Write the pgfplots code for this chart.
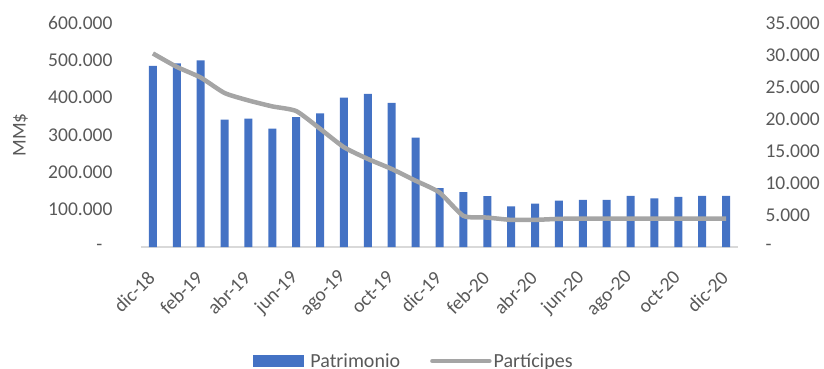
\documentclass[border=0pt]{standalone}
\usepackage{pgfplots}
\pgfplotsset{compat=1.18}
\usepackage{fontspec}
\setmainfont{Carlito}
\definecolor{barblue}{HTML}{4472C4}
\definecolor{linegray}{HTML}{A5A5A5}
\definecolor{txt}{HTML}{595959}
\definecolor{axgray}{HTML}{D9D9D9}
\newcommand{\tfont}{\fontsize{19.5}{23}\selectfont}
\begin{document}
\begin{tikzpicture}
\path[use as bounding box] (-141pt,-121pt) rectangle (683pt,247pt);
\begin{axis}[
  at={(0,0)}, anchor=south west,
  scale only axis, width=597pt, height=224pt,
  xmin=-0.5, xmax=24.5, ymin=0, ymax=600000,
  scaled y ticks=false,
  axis x line*=bottom, axis y line*=left,
  x axis line style={draw=axgray, line width=1.2pt, -},
  y axis line style={draw=none},
  major tick length=0pt,
  xtick={0,2,...,24},
  xticklabels={dic-18,feb-19,abr-19,jun-19,ago-19,oct-19,dic-19,feb-20,abr-20,jun-20,ago-20,oct-20,dic-20},
  xticklabel style={xshift=1pt, yshift=-25pt, rotate=45, anchor=east, font=\tfont, text=txt},
  ytick={0,100000,200000,300000,400000,500000,600000},
  yticklabels={-\hspace*{10pt},100.000,200.000,300.000,400.000,500.000,600.000},
  yticklabel style={anchor=east, xshift=-25pt, font=\tfont, text=txt},
  ylabel={MM\$},
  ylabel style={at={(axis description cs:-0.2018,0.5)}, anchor=center, font=\tfont, text=txt},
]
\addplot[ybar, bar width=8pt, fill=barblue, draw=none] coordinates {
(0,485000) (1,492000) (2,500000) (3,341000) (4,344000) (5,317000) (6,348000)
(7,358000) (8,400000) (9,410000) (10,386000) (11,293000) (12,158000) (13,147000)
(14,136000) (15,109000) (16,116000) (17,124000) (18,126000) (19,126000) (20,137000)
(21,130000) (22,134000) (23,137000) (24,137000)};
\end{axis}
\begin{axis}[
  at={(0,0)}, anchor=south west,
  scale only axis, width=597pt, height=224pt,
  xmin=-0.5, xmax=24.5, ymin=0, ymax=35000,
  scaled y ticks=false,
  axis x line=none, axis y line*=right,
  y axis line style={draw=none},
  major tick length=0pt,
  ytick={0,5000,10000,15000,20000,25000,30000,35000},
  yticklabels={-,5.000,10.000,15.000,20.000,25.000,30.000,35.000},
  yticklabel style={anchor=west, xshift=24pt, font=\tfont, text=txt},
  legend style={at={(axis description cs:0.4573,-0.509)}, anchor=center, draw=none, fill=none,
    font=\fontsize{20}{24}\selectfont, text=txt, legend columns=2,
    /tikz/every even column/.append style={column sep=28pt}},
]
\addlegendimage{legend image code/.code={\fill[barblue, draw=none] (0pt,-6pt) rectangle (51pt,6pt); \path[draw=none, fill=none] (0pt,0pt) rectangle (55pt,0.1pt);}}
\addlegendentry{Patrimonio}
\addplot[color=linegray, line width=4.5pt, line join=round, smooth, tension=0.35,
  legend image code/.code={\draw[linegray, line width=4.5pt, line cap=round] (0pt,0pt) -- (57pt,0pt);}] coordinates {
(0,30240) (1,28140) (2,26480) (3,24060) (4,22900) (5,21970) (6,21240)
(7,18470) (8,15590) (9,13760) (10,12190) (11,10360) (12,8520) (13,4870)
(14,4600) (15,4240) (16,4240) (17,4400) (18,4450) (19,4450) (20,4450)
(21,4450) (22,4450) (23,4450) (24,4450)};
\addlegendentry{Partícipes}
\end{axis}
\end{tikzpicture}
\end{document}
